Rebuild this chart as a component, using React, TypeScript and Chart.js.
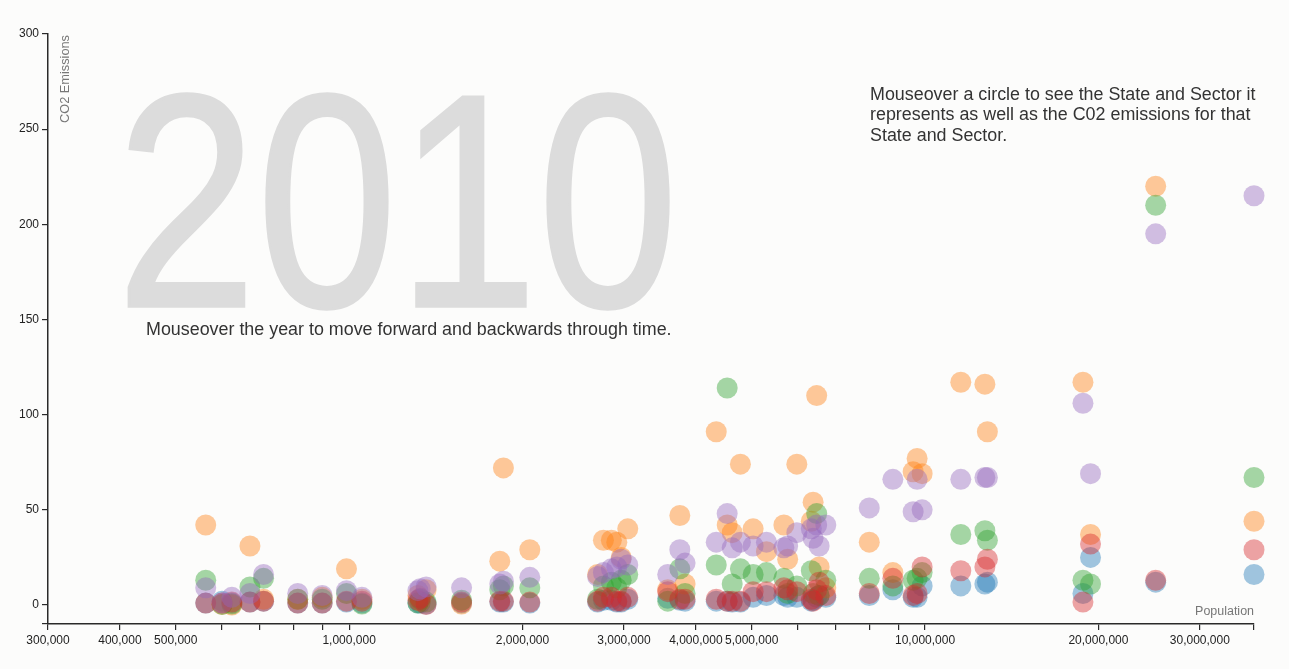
import React, { useEffect, useRef } from 'react';
import { Chart, registerables } from 'chart.js';

Chart.register(...registerables);

// ---------- data (2010) ----------
const YEAR = '2010';

const STATES = [
  'Wyoming', 'District of Columbia', 'Vermont', 'North Dakota', 'Alaska', 'South Dakota', 'Delaware', 'Montana',
  'Rhode Island', 'New Hampshire', 'Maine', 'Hawaii', 'Idaho', 'Nebraska', 'West Virginia', 'New Mexico',
  'Nevada', 'Utah', 'Kansas', 'Arkansas', 'Mississippi', 'Iowa', 'Connecticut', 'Oklahoma', 'Oregon',
  'Kentucky', 'Louisiana', 'South Carolina', 'Alabama', 'Colorado', 'Minnesota', 'Wisconsin', 'Maryland',
  'Missouri', 'Tennessee', 'Arizona', 'Indiana', 'Massachusetts', 'Washington', 'Virginia', 'New Jersey',
  'North Carolina', 'Georgia', 'Michigan', 'Ohio', 'Pennsylvania', 'Illinois', 'Florida', 'New York',
  'Texas', 'California',
];

const POPULATION = [
  563626, 601723, 625741, 672591, 710231, 814180, 897934, 989415,
  1052567, 1316470, 1328361, 1360301, 1567582, 1826341, 1852994, 2059179,
  2700551, 2763885, 2853118, 2915918, 2967297, 3046355, 3574097, 3751351, 3831074,
  4339367, 4533372, 4625364, 4779736, 5029196, 5303925, 5686986, 5773552,
  5988927, 6346105, 6392017, 6483802, 6547629, 6724540, 8001024, 8791894,
  9535483, 9687653, 9883640, 11536504, 12702379, 12830632, 18801310, 19378102,
  25145561, 37253956,
];

const COMMERCIAL = [
  1, 2, 1, 1.5, 2, 1, 1, 1.5,
  1, 1, 1, 0.5, 1, 1.5, 1.5, 1,
  1.5, 2.5, 2.5, 1.5, 1.5, 3, 3.5, 2.5, 2,
  2, 2, 1.5, 1.5, 4, 5, 5, 4,
  4, 2, 2.5, 4, 5, 4, 5, 8,
  4, 4, 10, 10, 11, 12, 6, 25,
  12, 16,
];

const ELECTRIC_POWER = [
  42, 0.2, 0, 31, 3, 3, 4, 19,
  3, 5, 2, 8, 0.5, 23, 72, 29,
  16, 34, 34, 33, 25, 40, 8, 47, 11,
  91, 42, 38, 74, 40, 28, 42, 24,
  74, 44, 54, 110, 20, 9, 33, 17,
  70, 77, 69, 117, 116, 91, 117, 37,
  220, 44,
];

const INDUSTRIAL = [
  13, 0.3, 0.5, 9.5, 14, 3, 3, 6,
  0.5, 1, 3, 1.5, 2.5, 8, 10, 9,
  3, 10, 12, 9, 13, 16, 2, 19, 6,
  21, 114, 11, 19, 16, 17, 14, 6,
  10, 18, 6, 48, 5, 13, 14, 10,
  13, 14, 17, 37, 39, 34, 13, 11,
  210, 67,
];

const RESIDENTIAL = [
  1, 1, 1.5, 1.5, 2, 1, 1, 2,
  2, 2.5, 3.5, 0.2, 1.5, 2, 2, 1.5,
  2, 4, 4, 2, 2, 4, 7, 3, 3,
  3, 2, 2, 2, 7, 7, 9, 8,
  7, 3, 2, 8, 12, 5, 6, 14,
  5, 6, 20, 18, 20, 24, 1.5, 32,
  13, 29,
];

const TRANSPORTATION = [
  9, 1, 4, 6, 16, 6, 5, 7.5,
  4, 7.5, 8.5, 9.5, 9, 11, 12.5, 14.5,
  15, 17, 19, 20, 24, 21, 16, 29, 22,
  33, 48, 30, 33, 31, 33, 30, 31,
  38, 40, 35, 42, 31, 42, 51, 66,
  49, 66, 50, 66, 67, 67, 106, 69,
  195, 215,
];

const SECTORS = ['Commercial', 'Electric Power', 'Industrial', 'Residential', 'Transportation'];
const SERIES = [COMMERCIAL, ELECTRIC_POWER, INDUSTRIAL, RESIDENTIAL, TRANSPORTATION];
const COLORS = ['#1f77b4', '#ff7f0e', '#2ca02c', '#d62728', '#9467bd'];

const X_TICKS = [
  300000, 400000, 500000, 600000, 700000, 800000, 900000,
  1000000, 2000000, 3000000, 4000000, 5000000, 6000000, 7000000, 8000000, 9000000,
  10000000, 20000000, 30000000,
];
const X_LABELED = [300000, 400000, 500000, 1000000, 2000000, 3000000, 4000000, 5000000, 10000000, 20000000, 30000000];
const X_MIN = 300000;
const Y_TICKS = [0, 50, 100, 150, 200, 250, 300];
const Y_MIN = -10;
const Y_MAX = 300;

const X_TITLE = 'Population';
const Y_TITLE = 'CO2 Emissions';
const YEAR_NOTE = 'Mouseover the year to move forward and backwards through time.';
const CIRCLE_NOTE = [
  'Mouseover a circle to see the State and Sector it',
  'represents as well as the C02 emissions for that',
  'State and Sector.',
];

// ---------- styling ----------
const W = 1289;
const H = 669;
const BG = '#fcfcfb';
const AXIS = '#2a2a2a';
const FONT = '"Liberation Sans", Helvetica, Arial, sans-serif';
const ALPHA = 0.42;
const RADIUS = 10.5;

function rgba(hex: string, a: number) {
  const n = parseInt(hex.slice(1), 16);
  return `rgba(${(n >> 16) & 255},${(n >> 8) & 255},${n & 255},${a})`;
}

function commas(v: number) {
  return String(Math.round(v)).replace(/\B(?=(\d{3})+(?!\d))/g, ',');
}

function sizeForWidth(ctx: CanvasRenderingContext2D, text: string, target: number) {
  ctx.font = `100px ${FONT}`;
  const w = ctx.measureText(text).width;
  return (100 * target) / w;
}

const annotations = {
  id: 'annotations',
  beforeDatasetsDraw(chart: any) {
    const ctx: CanvasRenderingContext2D = chart.ctx;
    ctx.save();

    // big year
    const L = 128, R = 672, T = 95, B = 311;
    ctx.textAlign = 'left';
    ctx.textBaseline = 'alphabetic';
    ctx.font = `100px ${FONT}`;
    let m = ctx.measureText(YEAR);
    const size = (100 * (B - T)) / (m.actualBoundingBoxAscent + m.actualBoundingBoxDescent);
    ctx.font = `${size}px ${FONT}`;
    m = ctx.measureText(YEAR);
    const inkW = m.actualBoundingBoxLeft + m.actualBoundingBoxRight;
    const sx = (R - L) / inkW;
    ctx.save();
    ctx.translate(L + m.actualBoundingBoxLeft * sx, B - m.actualBoundingBoxDescent);
    ctx.scale(sx, 1);
    ctx.fillStyle = '#dcdcdc';
    ctx.strokeStyle = '#dcdcdc';
    ctx.lineWidth = 3;
    ctx.fillText(YEAR, 0, 0);
    ctx.strokeText(YEAR, 0, 0);
    ctx.restore();

    // year note
    ctx.fillStyle = '#333';
    ctx.textBaseline = 'middle';
    ctx.textAlign = 'left';
    const s1 = sizeForWidth(ctx, YEAR_NOTE, 526);
    ctx.font = `${s1}px ${FONT}`;
    ctx.fillText(YEAR_NOTE, 146, 330);

    // circle note
    const s2 = sizeForWidth(ctx, CIRCLE_NOTE[0], 386);
    ctx.font = `${s2}px ${FONT}`;
    CIRCLE_NOTE.forEach((line, i) => ctx.fillText(line, 870, 95 + i * 20.5));

    // axis titles
    ctx.fillStyle = '#777';
    const s3 = sizeForWidth(ctx, X_TITLE, 59);
    ctx.font = `${s3}px ${FONT}`;
    ctx.textAlign = 'right';
    ctx.fillText(X_TITLE, chart.chartArea.right, 612);

    const s4 = sizeForWidth(ctx, Y_TITLE, 88);
    ctx.font = `${s4}px ${FONT}`;
    ctx.save();
    ctx.translate(chart.chartArea.left + 21, chart.chartArea.top + 1);
    ctx.rotate(-Math.PI / 2);
    ctx.textAlign = 'right';
    ctx.textBaseline = 'alphabetic';
    ctx.fillText(Y_TITLE, 0, 0);
    ctx.restore();

    ctx.restore();
  },
};

export default function App() {
  const ref = useRef<HTMLCanvasElement>(null);

  useEffect(() => {
    document.body.style.margin = '0';
    document.body.style.background = BG;
    const canvas = ref.current!;
    const xMax = Math.max(...POPULATION);

    const chart = new Chart(canvas, {
      type: 'bubble',
      data: {
        datasets: SECTORS.map((name, i) => ({
          label: name,
          data: STATES.map((_, j) => ({ x: POPULATION[j], y: SERIES[i][j] })),
          backgroundColor: rgba(COLORS[i], ALPHA),
          borderWidth: 0,
          radius: RADIUS,
          order: SECTORS.length - 1 - i,
          clip: false as any,
        })),
      },
      options: {
        responsive: false,
        animation: false,
        events: [],
        layout: { padding: { top: 34, right: 35, left: 0, bottom: 0 } },
        plugins: { legend: { display: false }, tooltip: { enabled: false } },
        scales: {
          x: {
            type: 'logarithmic',
            position: 'bottom',
            min: X_MIN,
            max: xMax,
            afterBuildTicks: (s: any) => {
              s.ticks = [...X_TICKS, xMax].map((v) => ({ value: v }));
            },
            afterFit: (s: any) => {
              s.height = 45;
            },
            grid: { drawOnChartArea: false, drawTicks: true, tickLength: 6, color: AXIS, lineWidth: 1.2 },
            border: { display: true, color: AXIS, width: 1.5 },
            ticks: {
              autoSkip: false,
              maxRotation: 0,
              minRotation: 0,
              padding: 3,
              color: '#222',
              font: { family: FONT, size: 12 },
              callback: (v: any) => (X_LABELED.includes(Number(v)) ? commas(Number(v)) : ''),
            },
          },
          y: {
            type: 'linear',
            min: Y_MIN,
            max: Y_MAX,
            afterBuildTicks: (s: any) => {
              s.ticks = [Y_MIN, ...Y_TICKS].map((v) => ({ value: v }));
            },
            afterFit: (s: any) => {
              s.width = 48;
            },
            grid: { drawOnChartArea: false, drawTicks: true, tickLength: 6, color: AXIS, lineWidth: 1.2 },
            border: { display: true, color: AXIS, width: 1.5 },
            ticks: {
              autoSkip: false,
              padding: 3,
              color: '#222',
              font: { family: FONT, size: 12 },
              callback: (v: any) => (Y_TICKS.includes(Number(v)) ? String(v) : ''),
            },
          },
        },
      },
      plugins: [annotations],
    } as any);

    return () => chart.destroy();
  }, []);

  return (
    <div style={{ position: 'fixed', left: 0, top: 0, width: W, height: H, background: BG }}>
      <canvas ref={ref} width={W} height={H} style={{ display: 'block' }} />
    </div>
  );
}
